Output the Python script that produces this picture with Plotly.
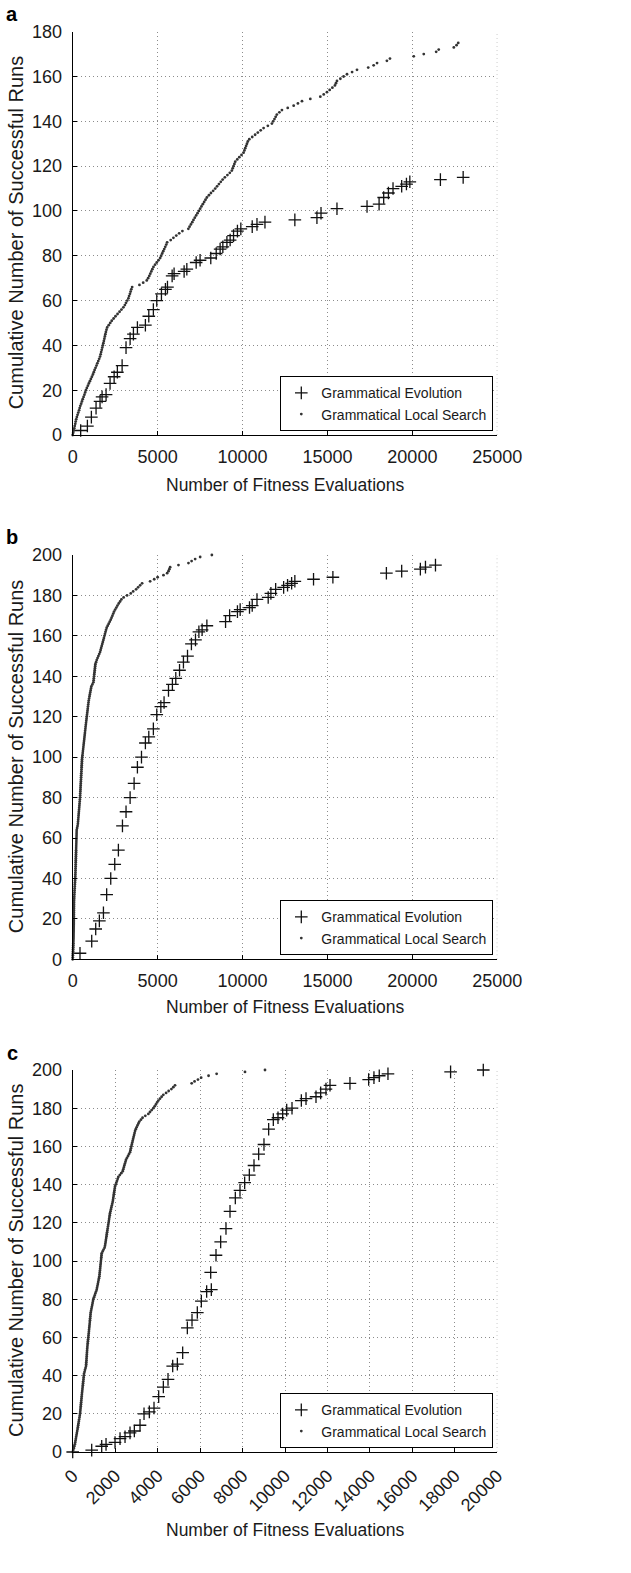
import plotly.graph_objects as go

# ---------------- data ----------------
# Panel a
a_ge_x = [470, 865, 1100, 1375, 1610, 1730, 1965, 2200, 2440, 2630, 2910, 3140, 3380, 3575, 3810,
          4280, 4480, 4750, 4950, 5225, 5460, 5580, 5855, 5970, 6560, 6720, 7270, 7500, 8130, 8450,
          8680, 8840, 9080, 9270, 9470, 9700, 9900, 10570, 10850, 11320, 13080, 14380, 14620, 15560,
          17330, 18040, 18310, 18590, 18860, 19370, 19650, 19850, 21650, 22990]
a_ge_y = [2, 4, 8, 12, 15, 17, 18, 23, 26, 28, 31, 39, 43, 45, 48,
          49, 53, 56, 60, 63, 65, 66, 71, 72, 73, 74, 77, 78, 79, 81,
          83, 84, 86, 87, 89, 91, 92, 93, 94, 95, 96, 97, 99, 101,
          102, 103, 106, 108, 110, 111, 112, 113, 114, 115]
a_gls_x = [0, 30, 60, 90, 120, 150, 175, 205, 245, 285, 330, 375, 410, 450, 500, 545, 590, 640, 690, 735, 780,
           835, 895, 950, 1010, 1070, 1130, 1190, 1240, 1290, 1345, 1400, 1450, 1505, 1560, 1610,
           1645, 1675, 1710, 1740, 1775, 1805, 1835, 1865, 1895, 1925, 1955, 1990, 2030, 2120, 2210,
           2300, 2410, 2520, 2640, 2760, 2870, 2985, 3070, 3140, 3210, 3280, 3320, 3370, 3410, 3450,
           3500, 3930, 4150, 4360, 4440, 4510, 4570, 4630, 4690, 4755, 4850, 4950, 5050, 5150, 5210,
           5270, 5330, 5390, 5450, 5510, 5560, 5770, 5930, 6100, 6270, 6460, 6810, 6880, 6960, 7040,
           7110, 7190, 7270, 7350, 7430, 7505, 7580, 7660, 7740, 7820, 7900, 8020, 8140, 8270, 8390,
           8500, 8610, 8720, 8830, 8960, 9110, 9250, 9370, 9420, 9470, 9520, 9570, 9690, 9810, 9940,
           10060, 10110, 10160, 10210, 10260, 10310, 10400, 10570, 10740, 10900, 11070, 11240, 11490,
           11730, 11800, 11880, 11950, 12020, 12170, 12320, 12660, 13010, 13260, 13500, 13990, 14580,
           14780, 14970, 15130, 15290, 15440, 15500, 15560, 15760, 15950, 16150, 16450, 16740, 17400,
           17720, 17920, 18500, 18680, 20080, 20670, 21400, 21550, 22440, 22600, 22700]

# Panel b
b_ge_x = [430, 1120, 1355, 1570, 1810, 2000, 2240, 2475, 2690, 2930, 3140, 3380, 3615, 3810, 4050,
          4280, 4480, 4750, 4950, 5190, 5380, 5640, 5870, 6070, 6290, 6520, 6760, 6990, 7230, 7430,
          7620, 7900, 9000, 9240, 9700, 9860, 10410, 10570, 10850, 11510, 11670, 11950, 12420, 12650,
          12890, 13080, 14180, 15320, 18470, 19370, 20470, 20770, 21360]
b_ge_y = [3, 9, 15, 19, 23, 32, 40, 47, 54, 66, 73, 80, 87, 95, 100,
          107, 110, 114, 121, 125, 127, 133, 136, 139, 143, 147, 150, 156, 158, 162,
          163, 165, 167, 170, 172, 173, 174, 175, 178, 179, 181, 183, 184, 185,
          186, 187, 188, 189, 191, 192, 193, 194, 195]
b_gls_x = [0, 5, 10, 15, 20, 25, 30, 35, 40, 45, 50,
           52, 54, 56, 58, 60, 62, 64, 66, 68, 70,
           71, 72, 73, 74, 75, 76, 77, 78, 80, 86,
           92, 98, 104, 110, 116, 122, 128, 134, 140, 146, 152, 157,
           161, 165, 168, 172, 175, 179, 182, 186, 190, 193, 197, 200, 204, 208, 211, 215, 218, 222,
           226, 229, 233, 236,
           260, 285, 305, 314,
           324, 334, 344, 354, 364, 374, 384, 393, 403, 413, 423, 432,
           438, 444, 451, 457, 463, 469, 475, 482, 488, 494, 500, 506, 513, 519, 525, 531, 538, 544, 550,
           563, 576, 589, 602, 615, 628, 641, 655, 668,
           681, 694, 707, 720, 733, 746, 759, 772, 786,
           800, 815, 829, 843, 857, 872, 886, 900, 914, 929, 943,
           965, 988, 1010, 1032, 1055, 1077, 1100,
           1160, 1218,
           1231, 1244, 1257, 1270, 1284, 1297, 1310, 1323, 1336,
           1375, 1414,
           1463, 1512, 1562, 1611,
           1644, 1676, 1709, 1742, 1774, 1807,
           1839, 1870, 1902, 1933, 1965,
           2000, 2060, 2120, 2180, 2240,
           2290, 2340, 2390, 2436,
           2500, 2570, 2633,
           2710, 2790, 2868,
           3000, 3200, 3418,
           3560, 3733,
           3850, 3970, 4086,
           4558, 4800, 5000, 5344, 5560, 5640, 5690, 5737, 6228, 6817, 7000, 7210, 7505, 8193]

# Panel c
c_ge_x = [0, 895, 1366, 1570, 1994, 2230, 2465, 2700, 2904, 3171, 3360, 3610, 3830, 4050, 4270,
          4490, 4710, 4930, 5180, 5400, 5620, 5870, 6060, 6310, 6530, 6500, 6750, 6970, 7220, 7410,
          7660, 7880, 8100, 8320, 8540, 8760, 9010, 9230, 9450, 9670, 9890, 10080, 10330, 10770,
          10990, 11460, 11680, 11930, 12120, 13060, 13940, 14190, 14440, 14850, 17800, 19340]
c_ge_y = [0, 1, 3, 4, 5, 7, 8, 10, 11, 14, 20, 21, 23, 29, 34,
          38, 45, 46, 52, 65, 69, 73, 79, 84, 85, 94, 103, 110, 117, 126,
          133, 137, 141, 145, 150, 156, 161, 169, 174, 175, 177, 179, 180, 184,
          185, 186, 188, 190, 192, 193, 195, 196, 197, 198, 199, 200]
c_gls_x = [0, 25, 50, 75, 100, 118, 134, 150, 165, 181, 197, 213,
           230, 244, 259, 273, 288, 302, 317, 331, 345,
           354, 362, 371, 380, 388, 397, 405, 414, 423, 431, 440,
           449, 459, 468, 478, 487, 496, 506, 515, 525, 534,
           558, 581, 605, 628,
           634, 640, 647, 653, 659, 665, 671, 678, 684, 690,
           699, 708, 717, 726, 736, 745, 754,
           763, 771, 780, 788, 797, 805, 814, 822, 831, 839, 848,
           866, 884, 902, 920, 937, 955, 973,
           1004, 1036, 1067, 1099, 1130,
           1148, 1166, 1184, 1202, 1220, 1238, 1256,
           1265, 1274, 1284, 1293, 1302, 1311, 1320, 1329, 1339, 1348, 1357, 1366,
           1410, 1455, 1500,
           1523, 1537, 1550, 1564, 1578, 1592, 1605, 1619, 1633,
           1647, 1661, 1675, 1689, 1703, 1716, 1730, 1744, 1758,
           1779, 1800, 1821, 1842, 1863, 1884,
           1898, 1911, 1925, 1939, 1953, 1966, 1980, 1994,
           2025, 2056, 2088, 2119, 2150,
           2218, 2287, 2355,
           2381, 2407, 2433, 2460, 2486, 2512,
           2559, 2606, 2653, 2700,
           2721, 2742, 2763, 2784, 2805, 2826,
           2848, 2870, 2892, 2914, 2936,
           2970, 3010, 3050, 3095, 3140,
           3215, 3290,
           3420, 3564,
           3640, 3720, 3800,
           3860, 3920, 3975, 4035,
           4110, 4190, 4270,
           4400, 4520,
           4650, 4740, 4820,
           5605, 5740, 5900, 6050, 6400, 6780, 8116, 9058]

panel_labels = ["a", "b", "c"]
legend_names = ["Grammatical Evolution", "Grammatical Local Search"]
x_title = "Number of Fitness Evaluations"
y_title = "Cumulative Number of Successful Runs"

# ---------------- layout geometry ----------------
W, H = 631, 1573
FONT = "Liberation Sans, Arial, Helvetica, sans-serif"
TXT = "#1a1a1a"
GRID = "#8c8c8c"
DOT = "1px,3px"

def fy(px):
    return 1 - px / H

x_dom = [72.7 / W, 497.3 / W]
panels = [
    dict(top=31.7, bot=435.0, xmax=25000, xd=5000, ymax=180, gex=a_ge_x, gey=a_ge_y, glsx=a_gls_x,
         leg_bot=431, leg_right=493, xt=485, lab=14, angle=0),
    dict(top=555.0, bot=959.3, xmax=25000, xd=5000, ymax=200, gex=b_ge_x, gey=b_ge_y, glsx=b_gls_x,
         leg_bot=955, leg_right=493, xt=1007, lab=537, angle=0),
    dict(top=1070.0, bot=1452.0, xmax=20000, xd=2000, ymax=200, gex=c_ge_x, gey=c_ge_y, glsx=c_gls_x,
         leg_bot=1448, leg_right=493, xt=1530, lab=1053, angle=-45),
]

fig = go.Figure()
layout = dict(
    template="none",
    width=W, height=H,
    margin=dict(l=0, r=0, t=0, b=0, autoexpand=False),
    paper_bgcolor="white", plot_bgcolor="white",
    font=dict(family=FONT, color=TXT, size=18),
    annotations=[], shapes=[], showlegend=True,
)

for i, p in enumerate(panels):
    n = "" if i == 0 else str(i + 1)
    xa, ya = "x" + n, "y" + n
    leg = "legend" + n
    gls_y = list(range(len(p["glsx"])))
    fig.add_trace(go.Scatter(
        x=p["gex"], y=p["gey"], xaxis=xa, yaxis=ya, mode="markers", name=legend_names[0],
        legend=leg, cliponaxis=False,
        marker=dict(symbol="cross-thin", size=9, color="black", line=dict(width=1.3, color="#111"))))
    fig.add_trace(go.Scatter(
        x=p["glsx"], y=gls_y, xaxis=xa, yaxis=ya, mode="markers", name=legend_names[1],
        legend=leg, cliponaxis=False,
        marker=dict(symbol="circle", size=2.8, color="#333", line=dict(width=0))))

    common = dict(showline=True, linecolor="black", linewidth=1.3, mirror=False,
                  ticks="inside", ticklen=4, tickwidth=1.2, tickcolor="black",
                  showgrid=True, gridcolor=GRID, griddash=DOT, gridwidth=1,
                  zeroline=False, automargin=False, tickformat="d",
                  tickfont=dict(size=18, color=TXT, family=FONT))
    layout["xaxis" + n] = dict(common, domain=x_dom, anchor=ya, range=[0, p["xmax"]],
                               dtick=p["xd"], tick0=0, tickangle=p["angle"],
                               ticklabelstandoff=5)
    layout["yaxis" + n] = dict(common, domain=[fy(p["bot"]), fy(p["top"])], anchor=xa,
                               range=[0, p["ymax"]], dtick=20, tick0=0, ticklabelstandoff=6)
    layout[leg] = dict(x=p["leg_right"] / W, y=fy(p["leg_bot"]), xanchor="right", yanchor="bottom",
                       bgcolor="white", bordercolor="black", borderwidth=1.3,
                       font=dict(size=14, color=TXT, family=FONT), itemwidth=30,
                       tracegroupgap=0)
    # dotted right edge of the frame (gridline at the top of the x range)
    layout["shapes"].append(dict(
        type="line", xref=xa, yref=ya + " domain", x0=p["xmax"], x1=p["xmax"], y0=0, y1=1,
        line=dict(color=GRID, width=1, dash=DOT), layer="below"))
    layout["annotations"].append(dict(
        text=x_title, x=(x_dom[0] + x_dom[1]) / 2, y=fy(p["xt"]), xref="paper", yref="paper",
        showarrow=False, font=dict(size=17.5, color=TXT, family=FONT), xanchor="center", yanchor="middle"))
    layout["annotations"].append(dict(
        text=y_title, x=16 / W, y=fy((p["top"] + p["bot"]) / 2), xref="paper", yref="paper",
        showarrow=False, textangle=-90, font=dict(size=20, color=TXT, family=FONT),
        xanchor="center", yanchor="middle"))
    layout["annotations"].append(dict(
        text="<b>" + panel_labels[i] + "</b>", x=12 / W, y=fy(p["lab"]), xref="paper", yref="paper",
        showarrow=False, font=dict(size=20, color="black", family=FONT),
        xanchor="center", yanchor="middle"))

fig.update_layout(**layout)
fig.write_html("out.html", config={"displayModeBar": False},
               post_script="document.body.style.margin='0';document.body.style.overflow='hidden';")
